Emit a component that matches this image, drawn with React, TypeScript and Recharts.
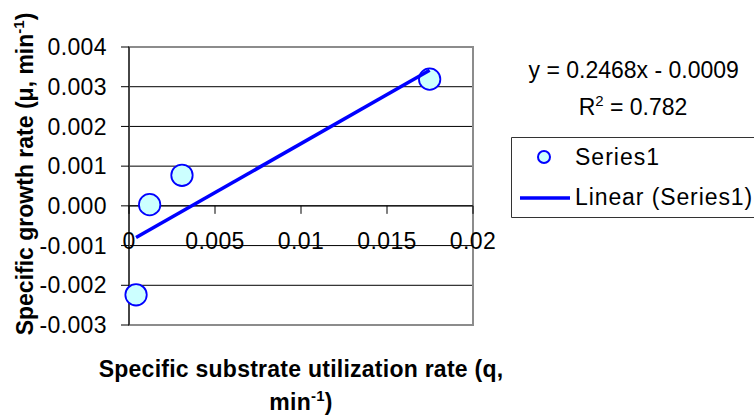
import {
  ScatterChart, Scatter, XAxis, YAxis, CartesianGrid, ReferenceLine, ReferenceArea, Legend
} from 'recharts';

// measured growth vs substrate utilization
const qValues = [0.00041, 0.0012, 0.00308, 0.01748];
const muValues = [-0.00224, 0.00003, 0.00077, 0.00319];

const xTicks = [0, 0.005, 0.01, 0.015, 0.02];
const yTicks = [-0.003, -0.002, -0.001, 0, 0.001, 0.002, 0.003, 0.004];

// linear fit shown on the chart
const slope = 0.2468;
const intercept = -0.0009;
const rSquared = 0.782;

const points = qValues.map((q, i) => ({ q, mu: muValues[i] }));
const trend = [Math.min(...qValues), Math.max(...qValues)].map((q) => ({ q, mu: slope * q + intercept }));

const W = 754;
const H = 419;
const PLOT = { left: 129, top: 47, right: 473, bottom: 325 };
const Y_MIN = yTicks[0];
const Y_MAX = yTicks[yTicks.length - 1];
const ZERO_Y = PLOT.top + (PLOT.bottom - PLOT.top) * (Y_MAX / (Y_MAX - Y_MIN));

const FONT = '"Liberation Sans", Arial, sans-serif';
const BLUE = '#0000ff';
const FILL = '#ccffff';
const LEGEND_LEFT = 511;

// x axis sits on the y = 0 line, labels hang below it
function QTick({ x, payload }: any) {
  return (
    <g>
      <line x1={x} x2={x} y1={ZERO_Y} y2={ZERO_Y + 8} stroke="#000" />
      <text x={x} y={ZERO_Y + 43} textAnchor="middle" fontSize={23} fontFamily={FONT} fill="#000"
        letterSpacing={0.4}>
        {String(payload.value)}
      </text>
    </g>
  );
}

function XTitle({ viewBox }: any) {
  const cx = viewBox.x + viewBox.width / 2;
  const y = viewBox.y;
  return (
    <text textAnchor="middle" fontSize={23} fontWeight="bold" fontFamily={FONT} fill="#000"
      letterSpacing={0.25}>
      <tspan x={cx} y={y + 52}>Specific substrate utilization rate (q,</tspan>
      <tspan x={cx} y={y + 85}>min</tspan>
      <tspan dy={-9} fontSize={15}>-1</tspan>
      <tspan dy={9}>)</tspan>
    </text>
  );
}

function YTitle({ viewBox }: any) {
  const x = viewBox.x + 33;
  const y = viewBox.y + 127;
  return (
    <text x={x} y={y} transform={`rotate(-90, ${x}, ${y})`} textAnchor="middle" fontSize={23}
      fontWeight="bold" fontFamily={FONT} fill="#000">
      Specific growth rate (μ, min
      <tspan dy={-9} fontSize={15}>-1</tspan>
      <tspan dy={9}>)</tspan>
    </text>
  );
}

const Bubble = (p: any) => (
  <circle cx={p.cx} cy={p.cy} r={10.7} fill={FILL} stroke={BLUE} strokeWidth={1.8} />
);

// legend box runs off the right edge, so only three sides are drawn
function LegendBox() {
  const w = W - LEGEND_LEFT;
  return (
    <svg width={w} height={82} style={{ display: 'block' }}>
      <rect x={0} y={0} width={w} height={81} fill="#fff" />
      <path d={`M${w + 2},0.5 H0.5 V80.5 H${w + 2}`} fill="none" stroke="#333" />
      <circle cx={33} cy={20} r={6} fill={FILL} stroke={BLUE} strokeWidth={2} />
      <text x={64} y={28} fontSize={23} fontFamily={FONT} fill="#000" letterSpacing={1}>Series1</text>
      <line x1={9} x2={59} y1={61} y2={61} stroke={BLUE} strokeWidth={3.5} />
      <text x={64} y={68} fontSize={23} fontFamily={FONT} fill="#000" letterSpacing={0.9}>Linear (Series1)</text>
    </svg>
  );
}

export default function GrowthVsUtilization() {
  return (
    <div style={{ position: 'absolute', left: 0, top: 0, width: W, height: H, overflow: 'hidden', background: '#fff' }}>
      <ScatterChart
        width={W}
        height={H}
        margin={{ top: PLOT.top, right: W - PLOT.right, bottom: H - PLOT.bottom - 30, left: 0 }}
        style={{ fontFamily: FONT }}
      >
        <CartesianGrid vertical={false} stroke="#000" strokeWidth={1} />
        <ReferenceArea x1={0} x2={0.02} y1={Y_MIN} y2={Y_MAX} fill="none" fillOpacity={0}
          stroke="#8c8c8c" strokeWidth={2} />
        <ReferenceLine y={0} stroke="#000" strokeWidth={1} />
        <XAxis
          type="number"
          dataKey="q"
          domain={[0, 0.02]}
          ticks={xTicks}
          interval={0}
          height={30}
          axisLine={false}
          tickLine={false}
          tick={<QTick />}
          label={(props: any) => <XTitle {...props} />}
        />
        <YAxis
          type="number"
          dataKey="mu"
          domain={[Y_MIN, Y_MAX]}
          ticks={yTicks}
          interval={0}
          width={PLOT.left}
          tickSize={8}
          tickMargin={14}
          axisLine={{ stroke: '#000' }}
          tickLine={{ stroke: '#000' }}
          tickFormatter={(v: number) => v.toFixed(3)}
          tick={{ fontSize: 23, fill: '#000', fontFamily: FONT, letterSpacing: 0.4 }}
          label={(props: any) => <YTitle {...props} />}
        />
        <Scatter name="Series1" data={points} shape={Bubble} isAnimationActive={false} />
        <Scatter
          name="Linear (Series1)"
          data={trend}
          line={{ stroke: BLUE, strokeWidth: 3.5 }}
          shape={() => <g />}
          isAnimationActive={false}
        />
        <Legend
          layout="vertical"
          align="center"
          verticalAlign="middle"
          content={() => <LegendBox />}
          wrapperStyle={{ left: LEGEND_LEFT, top: 137, width: W - LEGEND_LEFT, height: 82 }}
        />
      </ScatterChart>
      <svg width={254} height={90} style={{ position: 'absolute', left: 500, top: 40 }}>
        <text x={133.7} y={38.3} textAnchor="middle" fontSize={23} fontFamily={FONT} fill="#000">
          y = {slope}x - {Math.abs(intercept).toFixed(4)}
        </text>
        <text x={133} y={75} textAnchor="middle" fontSize={23} fontFamily={FONT} fill="#000">
          R<tspan dy={-9} fontSize={15}>2</tspan><tspan dy={9}> = {rSquared}</tspan>
        </text>
      </svg>
    </div>
  );
}
